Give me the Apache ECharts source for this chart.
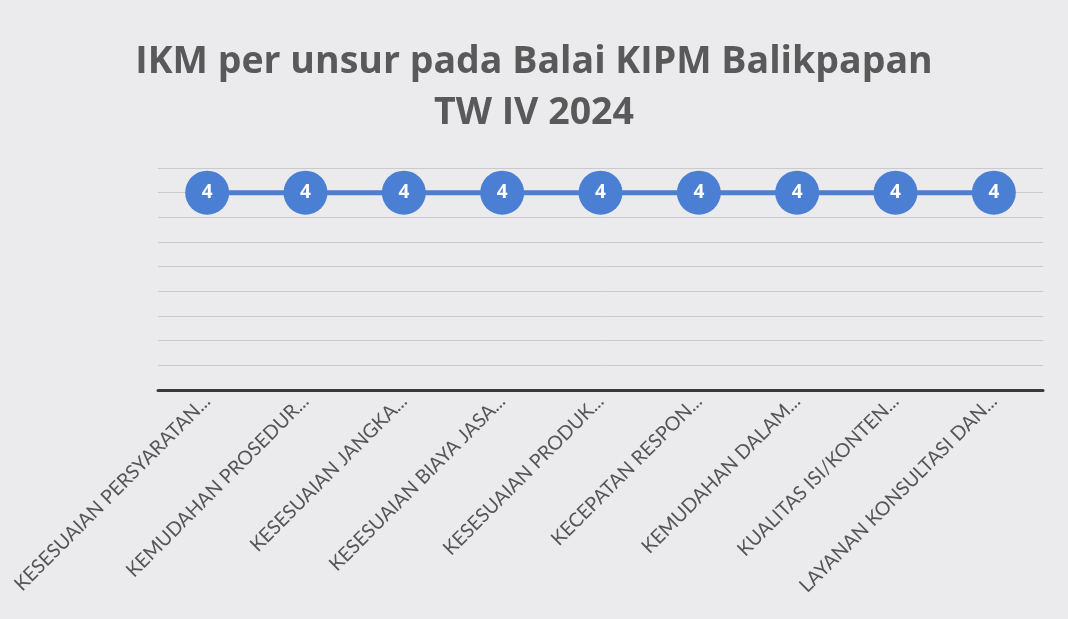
<!DOCTYPE html>
<html>
<head>
<meta charset="utf-8">
<script src="https://cdn.jsdelivr.net/npm/echarts@6/dist/echarts.min.js"></script>
<style>
  html, body { margin: 0; padding: 0; background: #ebebee; }
  #ikm-chart { width: 1068px; height: 619px; }
</style>
</head>
<body>
<div id="ikm-chart"></div>
<script>
// data IKM per unsur
const unsur = [
    'KESESUAIAN PERSYARATAN...', 'KEMUDAHAN PROSEDUR...', 'KESESUAIAN JANGKA...',
    'KESESUAIAN BIAYA JASA...', 'KESESUAIAN PRODUK...', 'KECEPATAN RESPON...',
    'KEMUDAHAN DALAM...', 'KUALITAS ISI/KONTEN...', 'LAYANAN KONSULTASI DAN...'
];
const nilaiIkm = [4, 4, 4, 4, 4, 4, 4, 4, 4];

let ikmChart = echarts.init(document.getElementById('ikm-chart'));

let option = {
    backgroundColor: '#ebebee',
    animation: false,
    title: {
        text: 'IKM per unsur pada Balai KIPM Balikpapan\nTW IV 2024',
        left: 'center',
        top: 32,
        textStyle: {
            fontFamily: 'Open Sans',
            fontSize: 37.5,
            fontWeight: 'bold',
            color: '#595959',
            lineHeight: 51
        }
    },
    grid: {
        left: 158,
        right: 25,
        top: 168,
        bottom: 229
    },
    xAxis: {
        type: 'category',
        data: unsur,
        axisLine: { lineStyle: { color: '#3a3a3a', width: 3 } },
        axisTick: { show: false },
        axisLabel: {
            rotate: 45,
            margin: 8,
            interval: 0,
            fontFamily: 'Lato',
            fontSize: 19.5,
            color: '#555555'
        }
    },
    yAxis: {
        type: 'value',
        min: 0,
        max: 4.5,
        interval: 0.5,
        axisLabel: { show: false },
        axisLine: { show: false },
        axisTick: { show: false },
        splitLine: { lineStyle: { color: '#cacace', width: 1 } }
    },
    series: [{
        name: 'IKM',
        type: 'line',
        data: nilaiIkm,
        symbol: 'circle',
        symbolSize: 44,
        lineStyle: { color: '#4a7fd4', width: 5 },
        itemStyle: { color: '#4a7fd4' },
        label: {
            show: true,
            position: 'inside',
            color: '#ffffff',
            fontFamily: 'Open Sans',
            fontWeight: 'bold',
            fontSize: 19
        }
    }]
};

ikmChart.setOption(option);
</script>
</body>
</html>
